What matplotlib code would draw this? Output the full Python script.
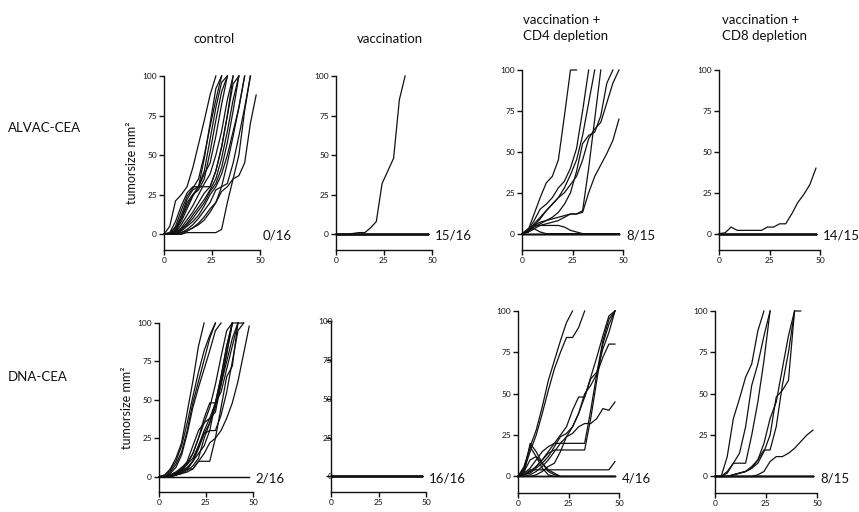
import matplotlib.pyplot as plt

plt.rcParams['font.family'] = ['Lato', 'DejaVu Sans']

W, H = 859, 512

# measurement days (every 3 days)
days = [0, 3, 6, 9, 12, 15, 18, 21, 24, 27, 30, 33, 36, 39, 42, 45, 48]

col_titles = ['control', 'vaccination', 'vaccination +\nCD4 depletion', 'vaccination +\nCD8 depletion']
row_titles = ['ALVAC-CEA', 'DNA-CEA']
free_labels = ['0/16', '15/16', '8/15', '14/15', '2/16', '16/16', '4/16', '8/15']

# tumor size per mouse (mm2), growing curves; stops when 100 is reached
alvac_control = [
    [0, 5, 21, 25, 30, 42, 57, 72, 88, 100],
    [0, 1, 8, 18, 26, 30, 30, 48, 70, 92, 100],
    [0, 0, 5, 15, 24, 29, 35, 50, 68, 85, 100],
    [0, 0, 3, 12, 22, 28, 30, 40, 60, 80, 96, 100],
    [0, 0, 2, 10, 20, 25, 28, 35, 52, 72, 90, 100],
    [0, 0, 2, 8, 16, 24, 30, 38, 45, 62, 82, 100],
    [0, 0, 1, 6, 12, 18, 25, 32, 38, 50, 65, 85, 100],
    [0, 0, 1, 4, 9, 14, 20, 26, 30, 40, 55, 75, 95, 100],
    [0, 0, 0, 3, 7, 12, 17, 22, 28, 35, 48, 65, 85, 100],
    [0, 0, 1, 3, 6, 10, 15, 20, 27, 32, 42, 58, 78, 100],
    [0, 0, 0, 2, 5, 8, 12, 18, 25, 30, 38, 50, 65, 80, 100],
    [0, 0, 0, 1, 3, 6, 10, 15, 20, 28, 30, 32, 45, 62, 80, 100],
    [0, 0, 0, 0, 2, 4, 7, 11, 16, 20, 27, 30, 35, 50, 78, 100],
    [0, 0, 0, 1, 2, 4, 6, 9, 14, 20, 30, 45, 62, 80, 100],
    [0, 0, 0, 0, 1, 1, 1, 1, 1, 1, 3, 20, 35, 37, 45, 70, 88],
    [0, 1, 4, 10, 18, 25, 30, 30, 30, 40, 55, 75, 100],
]
alvac_vacc = [
    [0, 0, 0, 0.5, 1, 1, 4, 8, 32, 40, 48, 85, 100],
]
alvac_cd4 = [
    [0, 2, 12, 22, 31, 35, 45, 72, 100, 100],
    [0, 2, 8, 15, 18, 22, 28, 32, 40, 52, 75, 100],
    [0, 1, 6, 10, 14, 18, 22, 28, 36, 45, 60, 80, 100],
    [0, 2, 5, 7, 8, 9, 10, 11, 12, 12, 14, 40, 70, 100],
    [0, 1, 4, 6, 8, 10, 13, 18, 25, 38, 55, 60, 62, 72, 92, 100],
    [0, 1, 3, 5, 6, 7, 8, 10, 12, 12, 13, 25, 35, 42, 49, 57, 70],
    [0, 1, 5, 9, 14, 18, 22, 25, 30, 35, 45, 58, 64, 68, 80, 92, 100],
    [0, 3, 5, 5, 5, 5, 5, 4, 2, 1, 0, 0, 0, 0, 0, 0, 0],
    [0, 1, 3, 1, 0, 0, 0, 0, 0, 0, 0, 0, 0, 0, 0, 0, 0],
]
alvac_cd8 = [
    [0, 0.5, 4, 2, 2, 2, 2, 2, 4, 4, 6, 6, 12, 19, 24, 30, 40],
]
dna_control = [
    [0, 1, 5, 12, 22, 42, 62, 85, 100],
    [0, 1, 4, 10, 20, 35, 52, 68, 82, 92, 100],
    [0, 0, 3, 8, 16, 30, 48, 62, 76, 90, 100],
    [0, 0, 2, 6, 14, 28, 45, 58, 70, 82, 95, 100],
    [0, 0, 1, 3, 6, 9, 15, 25, 35, 45, 60, 78, 95, 100],
    [0, 0, 1, 2, 5, 8, 12, 20, 30, 38, 48, 65, 85, 100],
    [0, 0, 0, 2, 4, 5, 10, 18, 28, 35, 45, 62, 80, 100],
    [0, 0, 0, 1, 3, 5, 5, 10, 10, 10, 25, 45, 65, 72, 100],
    [0, 0, 1, 2, 4, 8, 15, 25, 38, 48, 48, 55, 70, 85, 100],
    [0, 0, 0, 1, 3, 5, 10, 20, 28, 30, 30, 40, 55, 75, 95, 100],
    [0, 0, 0, 1, 2, 3, 5, 10, 15, 22, 25, 30, 38, 48, 62, 80, 98],
    [0, 0, 1, 3, 5, 10, 20, 30, 35, 38, 42, 60, 80, 100],
    [0, 0, 0, 1, 2, 4, 7, 12, 25, 35, 48, 60, 75, 90, 100],
    [0, 0, 1, 2, 4, 6, 10, 15, 20, 30, 48, 65, 85, 100, 100, 100],
]
dna_vacc = []
dna_cd4 = [
    [0, 6, 18, 28, 42, 58, 70, 82, 93, 100],
    [0, 4, 15, 25, 38, 52, 65, 75, 84, 84, 90, 100],
    [0, 1, 3, 6, 10, 15, 20, 25, 30, 40, 48, 48, 59, 63, 77, 87, 100],
    [0, 1, 2, 5, 8, 12, 18, 24, 26, 30, 38, 50, 55, 62, 72, 80, 80],
    [0, 0, 1, 3, 6, 10, 15, 20, 24, 26, 30, 32, 32, 35, 41, 40, 45],
    [0, 1, 4, 4, 4, 4, 4, 4, 4, 4, 4, 4, 4, 4, 4, 4, 9],
    [0, 2, 5, 10, 15, 18, 20, 20, 20, 20, 20, 20, 40, 62, 82, 95, 100],
    [0, 1, 3, 6, 10, 14, 16, 16, 16, 16, 16, 16, 35, 58, 80, 92, 100],
    [0, 0, 0, 1, 3, 6, 8, 15, 24, 30, 38, 48, 60, 72, 85, 97, 100],
    [0, 5, 18, 12, 5, 1, 0, 0, 0, 0, 0, 0, 0, 0, 0, 0, 0],
    [0, 2, 20, 15, 8, 3, 1, 0, 0, 0, 0, 0, 0, 0, 0, 0, 0],
    [0, 3, 10, 12, 8, 4, 2, 0, 0, 0, 0, 0, 0, 0, 0, 0, 0],
]
dna_cd8 = [
    [0, 0, 12, 35, 47, 60, 68, 88, 100],
    [0, 0, 2, 8, 14, 30, 55, 68, 85, 100],
    [0, 0, 3, 8, 8, 8, 25, 45, 70, 100],
    [0, 0, 0, 1, 2, 3, 6, 10, 20, 35, 45, 65, 85, 100],
    [0, 0, 0, 1, 2, 3, 5, 10, 16, 16, 30, 55, 75, 100],
    [0, 0, 0, 1, 2, 3, 5, 8, 15, 25, 48, 52, 58, 100, 100],
    [0, 0, 0, 0, 0, 0, 0, 1, 3, 9, 12, 12, 14, 17, 21, 25, 28],
]

# mice that stay tumor free the whole time (flat at 0)
zero_counts = [0, 15, 6, 14, 2, 16, 4, 8]

panels = [alvac_control, alvac_vacc, alvac_cd4, alvac_cd8,
          dna_control, dna_vacc, dna_cd4, dna_cd8]

# axes boxes in pixels: left, top, right, bottom
boxes = [(164, 76, 260, 250), (336, 76, 432, 250), (522, 70, 623, 250), (719, 70, 820, 250),
         (159, 323, 253, 492), (331, 321, 426, 492), (518, 311, 619, 493), (715, 311, 817, 493)]

fig = plt.figure(figsize=(W / 100, H / 100), dpi=100)
ink = '#111111'

for i, (curves, box) in enumerate(zip(panels, boxes)):
    l, t, r, b = box
    ax = fig.add_axes([l / W, 1 - b / H, (r - l) / W, (b - t) / H])
    for k in range(zero_counts[i]):
        ax.plot(days, [0] * len(days), color=ink, lw=0.9, clip_on=False)
    for y in curves:
        ax.plot(days[:len(y)], y, color=ink, lw=0.9, clip_on=False)
    ax.set_xlim(0, 50)
    ax.set_ylim(-10, 100)
    ax.set_xticks([0, 25, 50])
    ax.set_yticks([0, 25, 50, 75, 100])
    for s in ['top', 'right']:
        ax.spines[s].set_visible(False)
    for s in ['left', 'bottom']:
        ax.spines[s].set_linewidth(1.0)
        ax.spines[s].set_color(ink)
    ax.tick_params(length=3.5, width=1.0, color=ink, labelsize=6, labelcolor=ink, pad=1.5)
    if i == 5:
        # the tick labels sit on top of the axis in this panel
        ax.tick_params(axis='y', pad=-4.6)
    ax.patch.set_alpha(0)
    ax.text(51.5, -1, free_labels[i], fontsize=9.5, color=ink, va='center', ha='left', clip_on=False)
    if i % 4 == 0:
        ax.set_ylabel('tumorsize mm²', fontsize=9, color=ink, labelpad=3)

# column titles
fig.text(214 / W, 1 - 39 / H, col_titles[0], fontsize=9.5, color=ink, ha='center', va='center')
fig.text(390 / W, 1 - 39 / H, col_titles[1], fontsize=9.5, color=ink, ha='center', va='center')
fig.text(523 / W, 1 - 28 / H, col_titles[2], fontsize=9.5, color=ink, ha='left', va='center', linespacing=1.45)
fig.text(722 / W, 1 - 28 / H, col_titles[3], fontsize=9.5, color=ink, ha='left', va='center', linespacing=1.45)

# row titles
fig.text(8 / W, 1 - 128 / H, row_titles[0], fontsize=9.5, color=ink, ha='left', va='center')
fig.text(8 / W, 1 - 377 / H, row_titles[1], fontsize=9.5, color=ink, ha='left', va='center')

fig.savefig('out.png', dpi=100)
